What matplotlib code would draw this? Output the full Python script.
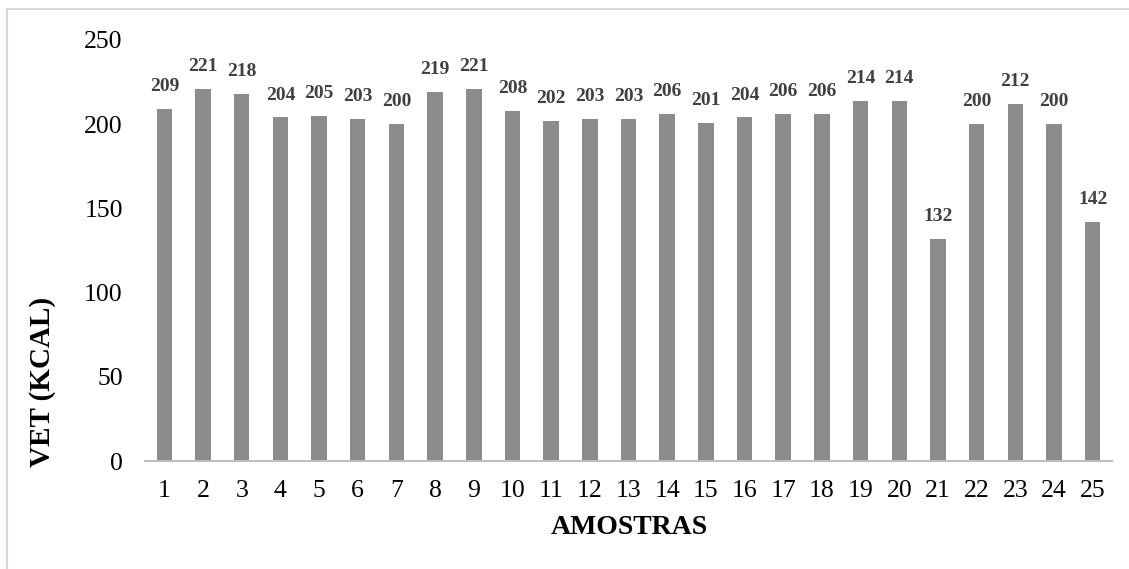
import matplotlib.pyplot as plt
from matplotlib.patches import Rectangle

plt.rcParams['font.family'] = ['Liberation Serif', 'DejaVu Serif']

amostras = list(range(1, 26))
vet = [209, 221, 218, 204, 205, 203, 200, 219, 221, 208, 202, 203, 203, 206,
       201, 204, 206, 206, 214, 214, 132, 200, 212, 200, 142]

fig = plt.figure(figsize=(11.29, 5.69), dpi=100)
ax = fig.add_axes([145 / 1129, 1 - 461 / 569, (1112 - 145) / 1129, (461 - 40) / 569])

bars = ax.bar(amostras, vet, width=0.4, color='#8c8c8c', zorder=2)
for b, v in zip(bars, vet):
    ax.annotate(str(v), (b.get_x() + b.get_width() / 2, v), xytext=(0, 10),
                textcoords='offset points', ha='center', va='bottom',
                fontsize=14, fontweight='bold', color='#404040')

ax.set_xlim(0.5, 25.5)
ax.set_ylim(0, 250)
ax.set_yticks([0, 50, 100, 150, 200, 250])
ax.set_xticks(amostras)
ax.tick_params(axis='both', length=0, labelsize=18.5)
ax.tick_params(axis='x', pad=14)
ax.tick_params(axis='y', pad=16)
for s in ['top', 'right', 'left']:
    ax.spines[s].set_visible(False)
ax.spines['bottom'].set_color('#bfbfbf')
ax.spines['bottom'].set_linewidth(1.5)

fig.text(629 / 1129, 1 - 527 / 569, 'AMOSTRAS', ha='center', va='center',
         fontsize=20, fontweight='bold')
fig.text(43 / 1129, 1 - 382 / 569, 'VET (KCAL)', ha='center', va='center',
         rotation=90, fontsize=21, fontweight='bold')

# thin frame round the chart area
fig.patches.append(Rectangle((7 / 1129, -0.1), 1.2, 1 - 9 / 569 + 0.1,
                             transform=fig.transFigure, fill=False,
                             edgecolor='#d9d9d9', linewidth=1.5))

fig.savefig('out.png', dpi=100)
